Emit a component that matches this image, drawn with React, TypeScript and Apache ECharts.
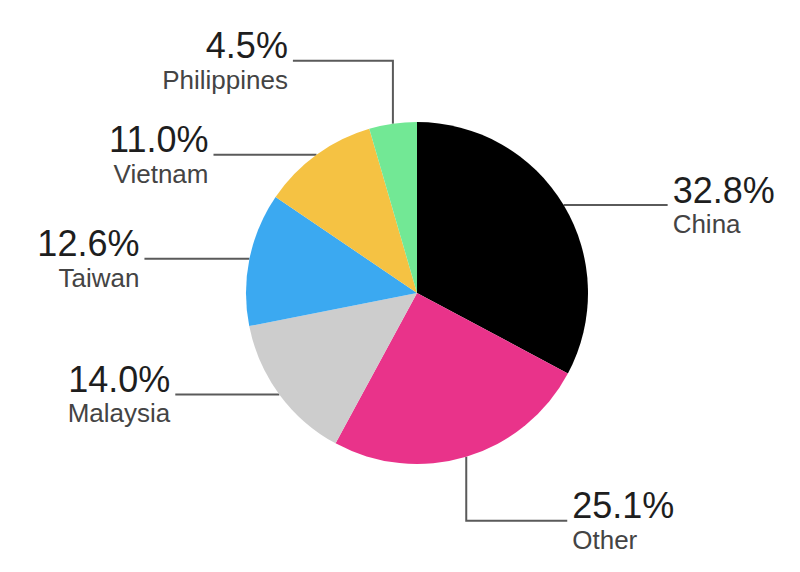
import React, { useEffect, useRef } from 'react';
import * as echarts from 'echarts';

const categories = ['China', 'Other', 'Malaysia', 'Taiwan', 'Vietnam', 'Philippines'];
const shares = [32.8, 25.1, 14.0, 12.6, 11.0, 4.5];
const sliceColors = ['#000000', '#e9338a', '#cdcdcd', '#3ba9f1', '#f5c243', '#72e895'];

// leader-line geometry per slice: vertical segment (+down / -up), then horizontal run (+right / -left)
const leaderDrop = [0, 64, 0, 0, 0, -63];
const leaderRun = [104, 101, -104, -105, -103, -100];

const FONT = '"Liberation Sans", Arial, Helvetica, sans-serif';

export default function App() {
  const ref = useRef<HTMLDivElement>(null);

  useEffect(() => {
    if (!ref.current) return;
    const chart = echarts.init(ref.current, null, { renderer: 'svg' });
    const pStyle = { fontSize: 36, lineHeight: 36, color: '#1e1e1e', fontFamily: FONT };
    const nStyle = { fontSize: 26, lineHeight: 32, color: '#444444', fontFamily: FONT };
    chart.setOption({
      animation: false,
      backgroundColor: '#ffffff',
      series: [
        {
          type: 'pie',
          center: [417, 293],
          radius: 171,
          startAngle: 90,
          clockwise: true,
          avoidLabelOverlap: false,
          silent: true,
          itemStyle: { borderWidth: 0 },
          data: categories.map((name, i) => {
            const al = leaderRun[i] < 0 ? 'right' : 'left';
            return {
              name,
              value: shares[i],
              itemStyle: { color: sliceColors[i] },
              label: {
                align: al,
                rich: {
                  p: { ...pStyle, align: al },
                  n: { ...nStyle, align: al },
                },
              },
            };
          }),
          label: {
            show: true,
            position: 'outside',
            fontFamily: FONT,
            formatter: (p: any) => `{p|${Number(p.value).toFixed(1)}%}\n{n|${p.name}}`,
            rich: { p: pStyle, n: nStyle },
          },
          labelLine: {
            show: true,
            length: 10,
            length2: 10,
            smooth: false,
            lineStyle: { color: '#5a5a5a', width: 2 },
          },
          labelLayout: (params: any) => {
            const i = params.dataIndex;
            const pts = params.labelLinePoints;
            if (!pts) return {};
            const p0 = pts[0];
            const bend = [p0[0], p0[1] + leaderDrop[i]];
            const end = [bend[0] + leaderRun[i], bend[1]];
            const left = leaderRun[i] < 0;
            return {
              x: end[0] + (left ? -5 : 5),
              y: end[1] + 1,
              align: left ? 'right' : 'left',
              verticalAlign: 'middle',
              labelLinePoints: [p0, bend, end],
            };
          },
        },
      ],
    });
    return () => chart.dispose();
  }, []);

  return (
    <div
      ref={ref}
      style={{ position: 'fixed', left: 0, top: 0, width: 800, height: 572 }}
    />
  );
}
